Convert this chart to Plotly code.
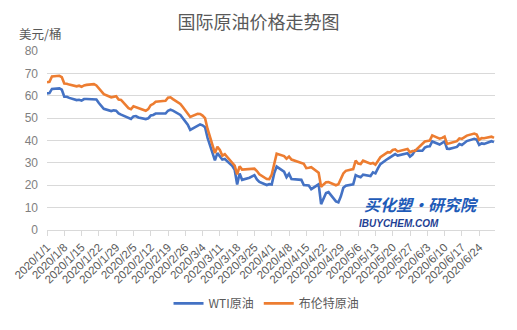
import pandas as pd
import plotly.graph_objects as go

# Daily settlement prices, USD per barrel (None = no settlement that day)
dates = [
    "2020-01-01", "2020-01-02", "2020-01-03", "2020-01-06", "2020-01-07", "2020-01-08", "2020-01-09",
    "2020-01-10", "2020-01-13", "2020-01-14", "2020-01-15", "2020-01-16", "2020-01-17", "2020-01-20",
    "2020-01-21", "2020-01-22", "2020-01-23", "2020-01-24", "2020-01-27", "2020-01-28", "2020-01-29",
    "2020-01-30", "2020-01-31", "2020-02-03", "2020-02-04", "2020-02-05", "2020-02-06", "2020-02-07",
    "2020-02-10", "2020-02-11", "2020-02-12", "2020-02-13", "2020-02-14", "2020-02-17", "2020-02-18",
    "2020-02-19", "2020-02-20", "2020-02-21", "2020-02-24", "2020-02-25", "2020-02-26", "2020-02-27",
    "2020-02-28", "2020-03-02", "2020-03-03", "2020-03-04", "2020-03-05", "2020-03-06", "2020-03-09",
    "2020-03-10", "2020-03-11", "2020-03-12", "2020-03-13", "2020-03-16", "2020-03-17", "2020-03-18",
    "2020-03-19", "2020-03-20", "2020-03-23", "2020-03-24", "2020-03-25", "2020-03-26", "2020-03-27",
    "2020-03-30", "2020-03-31", "2020-04-01", "2020-04-02", "2020-04-03", "2020-04-06", "2020-04-07",
    "2020-04-08", "2020-04-09", "2020-04-13", "2020-04-14", "2020-04-15", "2020-04-16", "2020-04-17",
    "2020-04-20", "2020-04-21", "2020-04-22", "2020-04-23", "2020-04-24", "2020-04-27", "2020-04-28",
    "2020-04-29", "2020-04-30", "2020-05-01", "2020-05-04", "2020-05-05", "2020-05-06", "2020-05-07",
    "2020-05-08", "2020-05-11", "2020-05-12", "2020-05-13", "2020-05-14", "2020-05-15", "2020-05-18",
    "2020-05-19", "2020-05-20", "2020-05-21", "2020-05-22", "2020-05-26", "2020-05-27", "2020-05-28",
    "2020-05-29", "2020-06-01", "2020-06-02", "2020-06-03", "2020-06-04", "2020-06-05", "2020-06-08",
    "2020-06-09", "2020-06-10", "2020-06-11", "2020-06-12", "2020-06-15", "2020-06-16", "2020-06-17",
    "2020-06-18", "2020-06-19", "2020-06-22", "2020-06-23", "2020-06-24", "2020-06-25", "2020-06-26",
    "2020-06-29", "2020-06-30",
]

wti = [
    61.06, 61.18, 63.05, 63.27, 62.70, 59.61, 59.56,
    59.04, 58.08, 58.23, 57.81, 58.52, 58.54, None,
    58.34, 56.74, 55.59, 54.19, 53.14, 53.48, 53.33,
    52.14, 51.56, 50.11, 49.61, 50.75, 50.95, 50.32,
    49.57, 49.94, 51.17, 51.42, 52.05, None, 52.05,
    53.29, 53.78, 53.38, 51.43, 49.90, 48.73, 47.09,
    44.76, 46.75, 47.18, 46.78, 45.90, 41.28, 31.13,
    34.36, 32.98, 31.50, 31.73, 28.70, 26.95, 20.37,
    25.22, 22.43, 23.36, 24.01, 24.49, 22.60, 21.51,
    20.09, 20.48, 20.31, 25.32, 28.34, 26.08, 23.63,
    25.09, 22.76, 22.41, 20.11, 19.87, 19.87, 18.27,
    20.43, 11.57, 13.78, 16.50, 16.94, 12.78, 12.34,
    15.06, 18.84, 19.78, 20.39, 24.56, 23.99, 23.55,
    24.74, 24.14, 25.78, 25.29, 27.56, 29.43, 31.82,
    32.50, 33.49, 33.92, 33.25, 34.35, 32.81, 33.71,
    35.49, 35.44, 36.81, 37.29, 37.41, 39.55, 38.19,
    38.94, 39.60, 36.34, 36.26, 37.12, 38.38, 37.96,
    38.84, 39.75, 40.73, 40.37, 38.01, 38.72, 38.49,
    39.70, 39.27,
]

brent = [
    66.00, 66.25, 68.60, 68.91, 68.27, 65.44, 65.37,
    64.98, 64.20, 64.49, 64.00, 64.62, 64.85, 65.20,
    64.59, 63.21, 62.04, 60.69, 59.32, 59.51, 59.81,
    58.29, 58.16, 54.45, 53.96, 55.28, 54.93, 54.47,
    53.27, 54.01, 55.79, 56.34, 57.32, 57.67, 57.75,
    59.12, 59.31, 58.50, 56.30, 54.95, 53.43, 52.18,
    50.52, 51.90, 51.86, 51.13, 49.99, 45.27, 34.36,
    37.22, 35.79, 33.22, 33.85, 30.05, 28.73, 24.88,
    28.47, 26.98, 27.03, 27.15, 27.39, 26.34, 24.93,
    22.76, 22.74, 24.74, 29.94, 34.11, 33.05, 31.87,
    32.84, 31.48, None, 29.60, 27.69, 27.82, 28.08,
    25.57, 19.33, 20.37, 21.33, 21.44, 19.99, 20.46,
    22.54, 25.27, 26.44, 27.20, 30.97, 29.72, 29.46,
    30.97, 29.63, 29.98, 29.19, 31.13, 32.50, 34.81,
    34.65, 35.75, 36.06, 35.13, 36.17, 34.74, 35.29,
    35.33, 38.32, 39.57, 39.79, 39.99, 42.30, 40.80,
    41.18, 41.73, 38.55, 38.73, 39.72, 40.96, 40.71,
    41.51, 42.19, 43.08, 42.63, 40.31, 41.05, 41.02,
    41.71, 41.15,
]

# Weekly date ticks on the horizontal axis
tick_dates = pd.date_range("2020-01-01", "2020-06-24", freq="7D")
tick_labels = [f"{d.year}/{d.month}/{d.day}" for d in tick_dates]

series_names = ["WTI原油", "布伦特原油"]
series_colors = ["#4472C4", "#ED7D31"]

fig = go.Figure()
for name, vals, color in zip(series_names, [wti, brent], series_colors):
    fig.add_trace(go.Scatter(
        x=pd.to_datetime(dates), y=vals, name=name, mode="lines",
        connectgaps=True,
        line=dict(color=color, width=2.6),
    ))

grid = "#D9D9D9"
text_gray = "#595959"

fig.update_layout(
    width=517, height=330,
    margin=dict(l=47, r=22, t=51, b=94),
    paper_bgcolor="white", plot_bgcolor="white",
    title=dict(
        text="国际原油价格走势图", x=0.5, xanchor="center",
        y=0.932, yanchor="middle",
        font=dict(family="Noto Sans CJK SC", size=18, color=text_gray),
    ),
    font=dict(family="Noto Sans CJK SC", color=text_gray),
    showlegend=True,
    legend=dict(
        orientation="h", x=0.49, xanchor="center", y=-0.41, yanchor="middle",
        font=dict(family="Noto Sans CJK SC", size=12, color=text_gray),
        itemwidth=30, tracegroupgap=0,
    ),
    xaxis=dict(
        range=["2020-01-01", "2020-06-30 10:00"],
        tickmode="array",
        tickvals=tick_dates,
        ticktext=tick_labels,
        tickangle=-45,
        tickfont=dict(family="Liberation Sans", size=11.5, color=text_gray),
        ticks="outside", ticklen=5, tickcolor=grid,
        showline=True, linecolor=grid, linewidth=1,
        showgrid=False, zeroline=False,
    ),
    yaxis=dict(
        range=[0, 80], dtick=10,
        tickfont=dict(family="Liberation Sans", size=12, color="#7F7F7F"),
        ticklabelstandoff=8,
        showgrid=True, gridcolor=grid, gridwidth=1.3,
        zeroline=False, showline=False, ticks="",
    ),
    annotations=[
        dict(text="美元/桶", xref="paper", yref="paper",
             x=-0.066, y=1.097, xanchor="left", yanchor="middle",
             showarrow=False,
             font=dict(family="Noto Sans CJK SC", size=12.5, color=text_gray)),
        dict(text="<b><i>买化塑·研究院</i></b>", xref="paper", yref="paper",
             x=0.835, y=0.146, xanchor="center", yanchor="middle",
             showarrow=False,
             font=dict(family="Noto Sans CJK SC", size=16, color="#1E5BB8")),
        dict(text="<b><i>IBUYCHEM.COM</i></b>", xref="paper", yref="paper",
             x=0.786, y=0.036, xanchor="center", yanchor="middle",
             showarrow=False,
             font=dict(family="Liberation Sans", size=10, color="#1F3F93")),
    ],
)

fig.write_html("out.html")
